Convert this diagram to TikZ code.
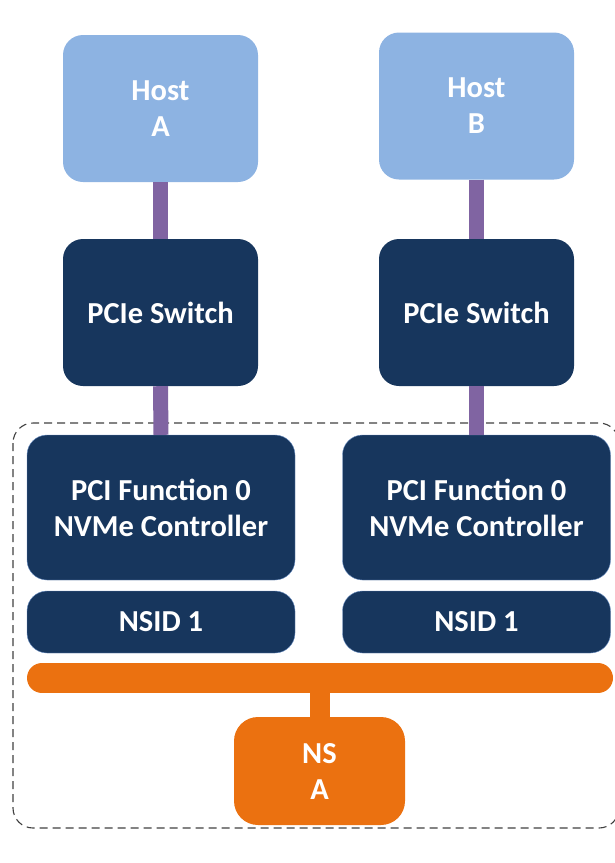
\documentclass[tikz,border=0pt]{standalone}
\usepackage{fontspec}
\setmainfont{Carlito}
\usetikzlibrary{positioning}
\definecolor{hostblue}{HTML}{8DB3E2}
\definecolor{navy}{HTML}{17365D}
\definecolor{linkpurple}{HTML}{8064A2}
\definecolor{nsorange}{HTML}{EB7110}
\definecolor{edgeblue}{HTML}{6F93C6}
\tikzset{
  box/.style={rectangle, rounded corners=20pt, inner sep=0pt, align=center,
    text=white, font=\fontsize{30.5}{36}\selectfont\bfseries},
  hostbox/.style={box, fill=hostblue, minimum width=195pt, minimum height=147pt},
  switchbox/.style={box, fill=navy, minimum width=195pt, minimum height=147pt},
  ctrlbox/.style={box, fill=navy, draw=edgeblue, line width=0.4pt, minimum width=268pt, minimum height=145pt},
  nsidbox/.style={box, fill=navy, draw=edgeblue, line width=0.4pt, minimum width=268pt, minimum height=62pt},
  nsbox/.style={box, fill=nsorange, rounded corners=24pt, minimum width=171pt, minimum height=108pt},
  pcielink/.style={draw=linkpurple, line width=15pt},
  nslink/.style={draw=nsorange, line width=20pt},
  busbar/.style={draw=nsorange, line width=30pt, line cap=round},
  subsystem/.style={draw=black!75, line width=1.1pt, dash pattern=on 8pt off 5pt, rounded corners=20pt}
}
\begin{document}
\begin{tikzpicture}[x=1pt, y=-1pt]
  \useasboundingbox (0,0) rectangle (615,863);

  % NVM subsystem outline
  \draw[subsystem] (13,423) rectangle (619,828);

  % hosts and switches
  \node[hostbox]   (hostA) at (160.5,108.5) {Host\\A};
  \node[hostbox]   (hostB) at (476.5,106)   {Host\\B};
  \node[switchbox] (swA)   at (160.5,312.5) {PCIe Switch};
  \node[switchbox] (swB)   at (476.5,312.5) {PCIe Switch};

  % controllers and namespace IDs
  \node[ctrlbox] (ctrlA) at (161,507.5)   {PCI Function 0\\NVMe Controller};
  \node[ctrlbox] (ctrlB) at (476.5,507.5) {PCI Function 0\\NVMe Controller};
  \node[nsidbox] (nsidA) at (161,622)     {NSID 1};
  \node[nsidbox] (nsidB) at (476.5,622)   {NSID 1};

  % shared namespace and its bus
  \coordinate (busL) at (42,678);
  \coordinate (busR) at (598,678);
  \coordinate (busM) at (320,678);
  \node[nsbox] (ns) at (319.5,771) {NS\\A};

  % PCIe links
  \draw[pcielink] (hostA.south) -- (swA.north);
  \draw[pcielink] (hostB.south) -- (swB.north);
  \draw[pcielink] (swA.south) -- (ctrlA.north);
  \draw[pcielink] (swB.south) -- (ctrlB.north);

  % namespace attachment
  \draw[busbar] (busL) -- (busR);
  \draw[nslink] (busM) -- (ns.north -| busM);
\end{tikzpicture}
\end{document}
